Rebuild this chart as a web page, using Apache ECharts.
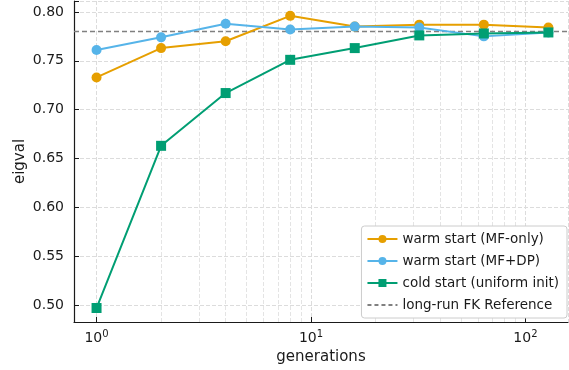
<!DOCTYPE html>
<html>
<head>
<meta charset="utf-8">
<script src="https://cdn.jsdelivr.net/npm/echarts@6/dist/echarts.min.js"></script>
<style>
  html, body { margin: 0; padding: 0; background: #fff; }
  #chart { width: 569px; height: 370px; }
</style>
</head>
<body>
<div id="chart"></div>
<script>
// data
var generations = [1, 2, 4, 8, 16, 32, 64, 128];
var warmMF = [0.733, 0.763, 0.770, 0.796, 0.785, 0.787, 0.787, 0.784];
var warmMFDP = [0.761, 0.774, 0.788, 0.782, 0.785, 0.784, 0.775, 0.779];
var cold = [0.497, 0.663, 0.717, 0.751, 0.763, 0.776, 0.778, 0.779];
var referenceValue = 0.780;
var minorTicks = [2, 3, 4, 5, 6, 7, 8, 9, 20, 30, 40, 50, 60, 70, 80, 90];

var font = "DejaVu Sans";

function pairs(ys) {
    return generations.map(function(g, i) { return [g, ys[i]]; });
}

var chart = echarts.init(document.getElementById("chart"));
var option = {
    animation: false,
    textStyle: { fontFamily: font },
    grid: { left: 74, right: 1, top: 1, bottom: 48 },
    xAxis: {
        type: "log",
        logBase: 10,
        min: 0.785,
        max: 158,
        name: "generations",
        nameLocation: "middle",
        nameGap: 27,
        nameTextStyle: { fontSize: 15, color: "#1a1a1a" },
        axisLine: { show: true, lineStyle: { color: "#1a1a1a", width: 1.2 } },
        axisTick: { inside: true, length: 5, lineStyle: { color: "#1a1a1a" } },
        axisLabel: {
            showMinLabel: false,
            showMaxLabel: false,
            margin: 7,
            formatter: function(v) {
                var e = Math.round(Math.log10(v));
                if (Math.abs(Math.pow(10, e) - v) > 1e-6 * v) return "";
                return "{b|10}{s|" + e + "}";
            },
            rich: {
                b: { fontSize: 14, color: "#1a1a1a", fontFamily: font },
                s: { fontSize: 10, color: "#1a1a1a", fontFamily: font, verticalAlign: "bottom", padding: [0, 0, 8, 0] }
            }
        },
        splitLine: { show: true, lineStyle: { color: "#dcdcdc", type: "dashed" } }
    },
    yAxis: {
        type: "value",
        min: 0.4827,
        max: 0.8112,
        name: "eigval",
        nameLocation: "middle",
        nameGap: 46,
        nameMoveOverlap: false,
        nameTextStyle: { fontSize: 15, color: "#1a1a1a" },
        axisLine: { show: true, lineStyle: { color: "#1a1a1a", width: 1.2 } },
        axisTick: { show: true, inside: true, length: 5, lineStyle: { color: "#1a1a1a" } },
        axisLabel: {
            fontSize: 14,
            color: "#1a1a1a",
            margin: 10,
            formatter: function(v) {
                var k = Math.round(v / 0.05);
                if (Math.abs(k * 0.05 - v) > 1e-6) return "";
                return v.toFixed(2);
            }
        },
        splitLine: { show: true, lineStyle: { color: "#dcdcdc", type: "dashed" } }
    },
    legend: {
        orient: "vertical",
        right: 2,
        bottom: 52,
        z: 10,
        itemWidth: 30,
        itemHeight: 10,
        itemGap: 8,
        padding: [6, 8, 6, 5],
        backgroundColor: "#ffffff",
        borderColor: "#cccccc",
        borderWidth: 1,
        borderRadius: 3,
        textStyle: { fontSize: 13.5, color: "#1a1a1a" },
        data: [
            "warm start (MF-only)",
            "warm start (MF+DP)",
            "cold start (uniform init)",
            { name: "long-run FK Reference", itemStyle: { opacity: 0 } }
        ]
    },
    series: [
        {
            name: "minor grid",
            type: "line",
            data: [],
            silent: true,
            z: 0,
            markLine: {
                z: 0,
                symbol: "none",
                silent: true,
                label: { show: false },
                lineStyle: { color: "#e4e4e4", type: "dashed", width: 1 },
                data: minorTicks.map(function(t) { return { xAxis: t }; })
            }
        },
        {
            name: "long-run FK Reference",
            type: "line",
            data: [],
            symbol: "none",
            color: "#808080",
            z: 1,
            lineStyle: { type: [4, 3], width: 1.4, color: "#808080" },
            markLine: {
                z: 1,
                symbol: "none",
                silent: true,
                label: { show: false },
                lineStyle: { color: "#808080", type: [5, 3], width: 1.3 },
                data: [{ yAxis: referenceValue }]
            }
        },
        {
            name: "warm start (MF-only)",
            type: "line",
            data: pairs(warmMF),
            color: "#E69F00",
            symbol: "circle",
            symbolSize: 10,
            lineStyle: { width: 2 },
            z: 3
        },
        {
            name: "warm start (MF+DP)",
            type: "line",
            data: pairs(warmMFDP),
            color: "#56B4E9",
            symbol: "circle",
            symbolSize: 10,
            lineStyle: { width: 2 },
            z: 4
        },
        {
            name: "cold start (uniform init)",
            type: "line",
            data: pairs(cold),
            color: "#009E73",
            symbol: "rect",
            symbolSize: 10,
            lineStyle: { width: 2 },
            z: 5
        }
    ]
};
chart.setOption(option);
</script>
</body>
</html>
